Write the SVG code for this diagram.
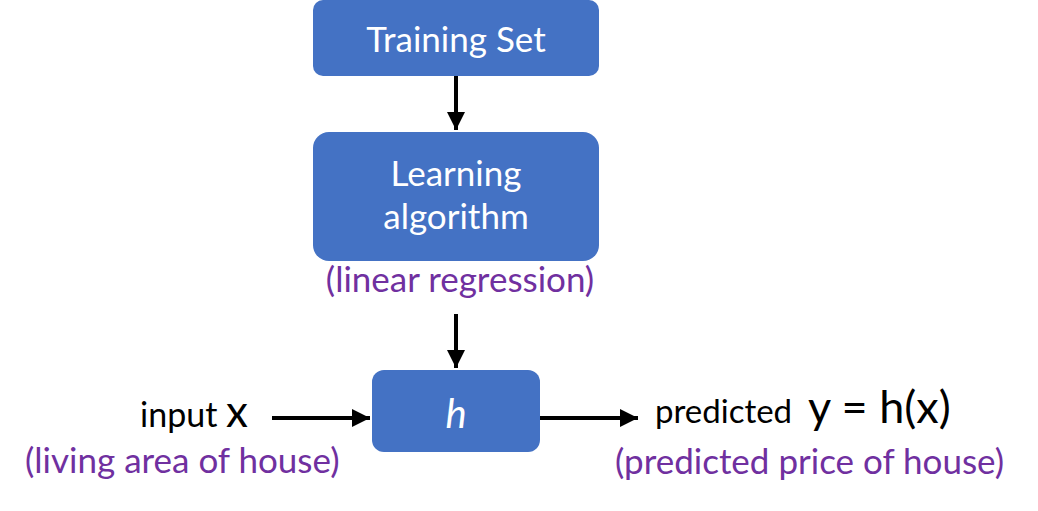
<svg xmlns="http://www.w3.org/2000/svg" width="1038" height="511" viewBox="0 0 1038 511">
<defs>
<marker id="ah" viewBox="0 0 10 10" refX="10" refY="5" markerWidth="4.5" markerHeight="4.5" markerUnits="strokeWidth" orient="auto"><path d="M0,0 L10,5 L0,10 Z" fill="#000"/></marker>
<style>
.box{fill:#4472C4}
.wt{fill:#fff;font-family:Lato,"Liberation Sans",sans-serif;font-size:35px;text-anchor:middle}
.bt{fill:#000;font-family:Lato,"Liberation Sans",sans-serif;font-size:34px}
.pt{fill:#7030A0;font-family:Lato,"Liberation Sans",sans-serif;font-size:35px}
.ln{stroke:#000;stroke-width:4;fill:none;marker-end:url(#ah)}
</style>
</defs>
<rect width="1038" height="511" fill="#fff"/>
<g id="training-set"><rect class="box" x="313" y="0" width="286" height="76" rx="10"/><text class="wt" x="456" y="52">Training Set</text></g>
<g id="learning-algorithm"><rect class="box" x="313" y="132" width="286" height="129" rx="16"/><text class="wt" x="456" y="186">Learning</text><text class="wt" x="456" y="229">algorithm</text></g>
<text class="pt" x="460" y="292" text-anchor="middle">(linear regression)</text>
<g id="h"><rect class="box" x="372" y="370" width="168" height="82" rx="12"/><text class="wt" x="456" y="428" style="font-style:italic;font-size:40px">h</text></g>
<g id="input"><text class="bt" x="140" y="427">input</text><text class="bt" x="226" y="427" style="font-size:44px">x</text><text class="pt" x="25" y="473">(living area of house)</text></g>
<g id="output"><text class="bt" x="655" y="423" style="font-size:33px">predicted</text><text class="bt" x="808" y="423" style="font-size:45px">y = h(x)</text><text class="pt" x="615" y="474">(predicted price of house)</text></g>
<g id="connectors">
<line class="ln" x1="456" y1="76" x2="456" y2="130"/>
<line class="ln" x1="456" y1="314" x2="456" y2="368"/>
<line class="ln" x1="272" y1="418" x2="370" y2="418"/>
<line class="ln" x1="540" y1="418" x2="638" y2="418"/>
</g>
</svg>
